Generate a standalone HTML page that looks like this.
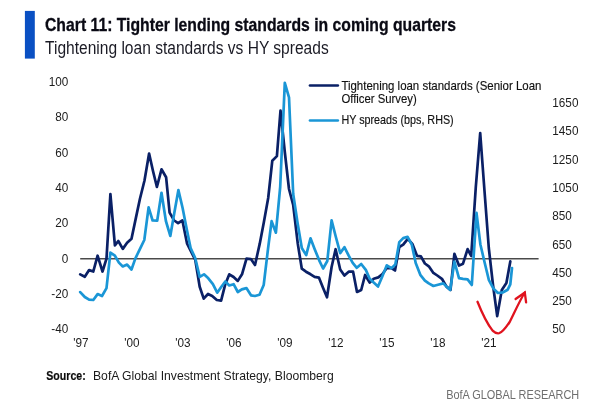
<!DOCTYPE html>
<html><head><meta charset="utf-8"><title>Chart 11</title>
<style>
html,body{margin:0;padding:0;background:#fff;}
body{width:609px;height:411px;overflow:hidden;font-family:"Liberation Sans",sans-serif;}
svg{display:block}
text{font-family:"Liberation Sans",sans-serif;}
</style></head><body>
<svg width="609" height="411" viewBox="0 0 609 411">
<rect x="0" y="0" width="609" height="411" fill="#ffffff"/>
<rect x="24.9" y="10.9" width="9.9" height="47.7" fill="#0a50c3"/>
<text x="45" y="31.3" font-size="18.6" font-weight="bold" fill="#0a0a14" stroke="#0a0a14" stroke-width="0.3" textLength="411" lengthAdjust="spacingAndGlyphs">Chart 11: Tighter lending standards in coming quarters</text>
<text x="45" y="53.6" font-size="17.5" fill="#1a1a24" textLength="283.7" lengthAdjust="spacingAndGlyphs">Tightening loan standards vs HY spreads</text>

<text transform="translate(68.3,86.1) scale(0.94,1)" font-size="12.5" fill="#1c1c1c" text-anchor="end">100</text>
<text transform="translate(68.3,121.4) scale(0.94,1)" font-size="12.5" fill="#1c1c1c" text-anchor="end">80</text>
<text transform="translate(68.3,156.7) scale(0.94,1)" font-size="12.5" fill="#1c1c1c" text-anchor="end">60</text>
<text transform="translate(68.3,192.0) scale(0.94,1)" font-size="12.5" fill="#1c1c1c" text-anchor="end">40</text>
<text transform="translate(68.3,227.3) scale(0.94,1)" font-size="12.5" fill="#1c1c1c" text-anchor="end">20</text>
<text transform="translate(68.3,262.6) scale(0.94,1)" font-size="12.5" fill="#1c1c1c" text-anchor="end">0</text>
<text transform="translate(68.3,297.9) scale(0.94,1)" font-size="12.5" fill="#1c1c1c" text-anchor="end">-20</text>
<text transform="translate(68.3,333.2) scale(0.94,1)" font-size="12.5" fill="#1c1c1c" text-anchor="end">-40</text>
<text transform="translate(552.3,107.0) scale(0.94,1)" font-size="12.5" fill="#1c1c1c">1650</text>
<text transform="translate(552.3,135.3) scale(0.94,1)" font-size="12.5" fill="#1c1c1c">1450</text>
<text transform="translate(552.3,163.6) scale(0.94,1)" font-size="12.5" fill="#1c1c1c">1250</text>
<text transform="translate(552.3,191.9) scale(0.94,1)" font-size="12.5" fill="#1c1c1c">1050</text>
<text transform="translate(552.3,220.2) scale(0.94,1)" font-size="12.5" fill="#1c1c1c">850</text>
<text transform="translate(552.3,248.5) scale(0.94,1)" font-size="12.5" fill="#1c1c1c">650</text>
<text transform="translate(552.3,276.8) scale(0.94,1)" font-size="12.5" fill="#1c1c1c">450</text>
<text transform="translate(552.3,305.1) scale(0.94,1)" font-size="12.5" fill="#1c1c1c">250</text>
<text transform="translate(552.3,333.4) scale(0.94,1)" font-size="12.5" fill="#1c1c1c">50</text>
<text transform="translate(81,347) scale(0.94,1)" font-size="12.5" fill="#1c1c1c" text-anchor="middle">'97</text>
<text transform="translate(132,347) scale(0.94,1)" font-size="12.5" fill="#1c1c1c" text-anchor="middle">'00</text>
<text transform="translate(183,347) scale(0.94,1)" font-size="12.5" fill="#1c1c1c" text-anchor="middle">'03</text>
<text transform="translate(234,347) scale(0.94,1)" font-size="12.5" fill="#1c1c1c" text-anchor="middle">'06</text>
<text transform="translate(285,347) scale(0.94,1)" font-size="12.5" fill="#1c1c1c" text-anchor="middle">'09</text>
<text transform="translate(336,347) scale(0.94,1)" font-size="12.5" fill="#1c1c1c" text-anchor="middle">'12</text>
<text transform="translate(387,347) scale(0.94,1)" font-size="12.5" fill="#1c1c1c" text-anchor="middle">'15</text>
<text transform="translate(438,347) scale(0.94,1)" font-size="12.5" fill="#1c1c1c" text-anchor="middle">'18</text>
<text transform="translate(489,347) scale(0.94,1)" font-size="12.5" fill="#1c1c1c" text-anchor="middle">'21</text>
<line x1="80.2" y1="258.7" x2="538.6" y2="258.7" stroke="#4a4a4a" stroke-width="1.5"/>
<polyline points="80.2,274.4 84.8,276.8 89.1,270.1 93.3,271.5 97.6,255.7 102.5,271.5 106.5,258.6 110.4,194.2 114.9,245.4 118.3,241.0 122.8,248.9 127.1,242.8 131.5,238.8 136.0,217.4 139.9,199.0 144.5,180.5 149.1,153.5 153.0,171.0 156.9,187.0 161.5,169.3 166.1,177.2 169.6,212.6 174.2,220.5 178.1,223.1 182.4,220.5 187.1,243.7 191.0,251.5 195.3,260.0 199.7,286.8 203.7,298.6 208.0,294.0 212.2,296.0 216.8,300.0 221.1,300.6 225.3,284.2 229.3,274.3 233.6,277.0 237.8,280.9 242.0,274.3 246.5,258.7 250.9,259.1 255.0,265.0 259.7,243.9 263.9,222.0 268.2,198.0 272.3,160.7 276.9,156.1 280.5,110.5 284.8,152.0 289.0,189.0 293.2,205.0 297.8,243.9 301.8,268.7 306.0,271.7 310.6,274.3 314.6,276.9 318.9,277.6 323.1,288.1 327.0,297.3 331.6,267.0 335.6,249.2 340.2,269.5 344.4,275.6 348.7,271.7 353.1,271.7 357.0,292.0 361.2,290.0 365.1,275.0 369.7,282.6 373.7,278.7 378.3,277.4 382.5,274.0 386.8,268.0 391.4,268.1 395.0,270.5 399.3,247.0 403.2,244.7 407.8,238.8 412.5,244.2 417.0,255.8 420.9,256.4 424.9,263.5 428.8,266.3 433.4,272.9 437.3,275.5 441.9,278.8 446.5,286.6 450.5,289.9 454.4,253.8 459.0,265.6 463.0,263.7 467.6,249.1 471.2,256.0 475.8,187.0 480.2,133.2 484.5,191.0 488.8,248.0 493.0,285.0 497.2,316.1 501.8,290.0 506.4,283.1 510.3,261.4" fill="none" stroke="#0a2066" stroke-width="2.7" stroke-linejoin="round" stroke-linecap="round"/>
<polyline points="80.2,292.1 84.8,297.0 89.1,299.6 93.3,300.0 97.6,294.1 102.0,296.0 106.5,288.2 110.4,252.7 114.9,255.7 118.9,262.6 122.8,266.5 127.1,264.6 131.5,269.5 135.3,258.6 140.0,248.8 144.3,240.0 148.6,207.4 152.6,220.5 157.2,220.7 161.5,192.8 165.9,221.0 170.3,235.9 174.3,213.0 178.4,190.1 182.6,208.0 186.6,228.4 190.6,248.0 195.2,258.0 199.7,276.9 204.0,274.3 208.3,278.3 212.9,284.2 217.2,292.7 221.4,286.8 225.3,281.5 229.3,285.5 233.6,284.2 237.8,292.0 241.8,289.4 246.4,288.1 251.0,295.3 254.9,296.0 259.5,294.7 263.7,285.0 268.0,249.0 271.6,221.2 275.9,232.7 280.2,187.0 284.8,82.9 289.0,97.3 293.2,194.0 297.4,222.0 301.8,248.0 306.2,255.1 310.5,238.3 314.7,249.2 319.2,260.3 323.1,268.5 327.3,261.0 331.6,220.3 335.6,236.0 340.2,253.1 344.4,247.2 348.7,255.7 352.7,262.8 356.8,267.8 361.2,264.0 365.8,269.9 369.7,278.8 373.7,282.6 378.0,286.5 382.2,276.7 386.8,265.3 391.4,268.2 395.3,264.6 399.3,242.1 403.2,238.1 407.6,236.8 411.8,244.7 415.7,263.0 420.3,274.8 424.9,280.6 428.8,283.4 433.4,286.0 438.0,284.7 443.3,283.4 446.5,286.6 450.2,289.9 454.4,261.7 459.0,278.1 463.0,278.8 467.6,279.4 471.8,285.0 476.5,212.8 480.4,244.5 484.5,262.0 488.8,279.8 493.3,288.4 497.9,293.0 503.1,292.3 507.7,289.7 510.3,284.4 512.0,268.0" fill="none" stroke="#1a96d6" stroke-width="2.7" stroke-linejoin="round" stroke-linecap="round"/>
<line x1="310" y1="85.5" x2="337.8" y2="85.5" stroke="#0a2066" stroke-width="2.7" stroke-linecap="round"/>
<line x1="310" y1="120.5" x2="337.8" y2="120.5" stroke="#1a96d6" stroke-width="2.7" stroke-linecap="round"/>
<text x="341.4" y="89.6" font-size="12.2" fill="#111" stroke="#111" stroke-width="0.15" textLength="200" lengthAdjust="spacingAndGlyphs">Tightening loan standards (Senior Loan</text>
<text x="341.4" y="102.9" font-size="12.2" fill="#111" stroke="#111" stroke-width="0.15" textLength="75.4" lengthAdjust="spacingAndGlyphs">Officer Survey)</text>
<text x="341.4" y="124.2" font-size="12.2" fill="#111" stroke="#111" stroke-width="0.15" textLength="112.3" lengthAdjust="spacingAndGlyphs">HY spreads (bps, RHS)</text>
<path d="M477.5,301.7 C482,313 487,323.4 492.6,330.6 C495,333 497,333.6 499.2,333.2 C502,332.6 504.4,329.9 509.7,322 C514.9,311.5 520.2,299.7 524.8,292.5" fill="none" stroke="#e0131e" stroke-width="2.3" stroke-linecap="round"/>
<path d="M515.6,299 L524.8,292.5 L526.1,302.3" fill="none" stroke="#e0131e" stroke-width="2.3" stroke-linecap="round" stroke-linejoin="miter"/>
<text x="46.3" y="380.3" font-size="13.6" font-weight="bold" fill="#0a0a0a" stroke="#0a0a0a" stroke-width="0.2" textLength="39.4" lengthAdjust="spacingAndGlyphs">Source:</text>
<text x="93" y="380.3" font-size="13.6" fill="#1a1a1a" textLength="240.7" lengthAdjust="spacingAndGlyphs">BofA Global Investment Strategy, Bloomberg</text>
<text x="446.2" y="399.4" font-size="13.5" fill="#6e6e6e" textLength="133" lengthAdjust="spacingAndGlyphs">BofA GLOBAL RESEARCH</text>
</svg></body></html>
